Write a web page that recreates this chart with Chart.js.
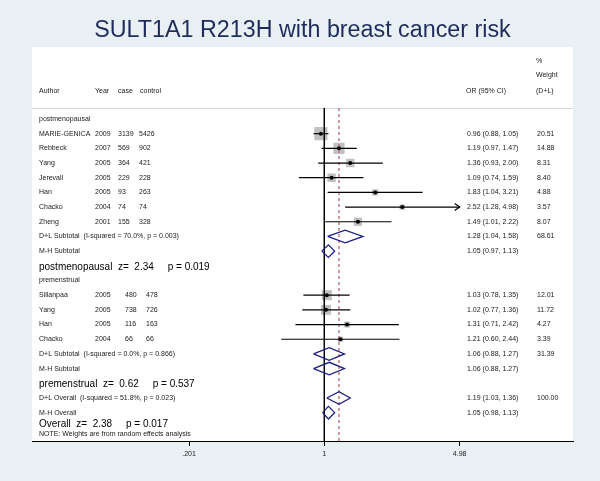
<!DOCTYPE html>
<html>
<head>
<meta charset="utf-8">
<script src="https://cdn.jsdelivr.net/npm/chart.js@4.4.1/dist/chart.umd.min.js"></script>
<style>
  html, body { margin: 0; padding: 0; background: #e9f0f3; }
  canvas { display: block; }
</style>
</head>
<body>
<canvas id="forest" width="600" height="481"></canvas>
<script>
// studies
const authors = ["MARIE-GENICA", "Rebbeck", "Yang", "Jerevall", "Han", "Chacko", "Zheng", "Sillanpaa", "Yang", "Han", "Chacko"];
const years = [2009, 2007, 2005, 2005, 2005, 2004, 2001, 2005, 2005, 2005, 2004];
const cases = [3139, 569, 364, 229, 93, 74, 155, 480, 738, 116, 66];
const controls = [5426, 902, 421, 228, 263, 74, 328, 478, 726, 163, 66];
const oddsRatios = [0.96, 1.19, 1.36, 1.09, 1.83, 2.52, 1.49, 1.03, 1.02, 1.31, 1.21];
const ciLow = [0.88, 0.97, 0.93, 0.74, 1.04, 1.28, 1.01, 0.78, 0.77, 0.71, 0.60];
const ciHigh = [1.05, 1.47, 2.00, 1.59, 3.21, 4.98, 2.22, 1.35, 1.36, 2.42, 2.44];
const weights = [20.51, 14.88, 8.31, 8.40, 4.88, 3.57, 8.07, 12.01, 11.72, 4.27, 3.39];
const studyGroup = [0, 0, 0, 0, 0, 0, 0, 1, 1, 1, 1];
const studyRows = [1, 2, 3, 4, 5, 6, 7, 12, 13, 14, 15];

// subgroups
const groupNames = ["postmenopausal", "premenstrual"];
const groupRows = [0, 11];

// pooled estimates
const pooledLabels = [
  "D+L Subtotal  (I-squared = 70.0%, p = 0.003)", "M-H Subtotal",
  "D+L Subtotal  (I-squared = 0.0%, p = 0.866)", "M-H Subtotal",
  "D+L Overall  (I-squared = 51.8%, p = 0.023)", "M-H Overall"
];
const pooledOr = [1.28, 1.05, 1.06, 1.06, 1.19, 1.05];
const pooledLow = [1.04, 0.97, 0.88, 0.88, 1.03, 0.98];
const pooledHigh = [1.58, 1.13, 1.27, 1.27, 1.36, 1.13];
const pooledWeights = [68.61, null, 31.39, null, 100.00, null];
const pooledRows = [8, 9, 16, 17, 19, 20];

// tests
const testLabels = ["postmenopausal", "premenstrual", "Overall"];
const testZ = ["2.34", "0.62", "2.38"];
const testP = ["0.019", "0.537", "0.017"];
const testRows = [10.1, 18.05, 20.78];

// axis
const xTicks = [0.201, 1, 4.98];
const xTickLabels = [".201", "1", "4.98"];
const nullLine = 1;
const overallLine = pooledOr[4];

const rowTop = -0.75, rowBottom = 21.93;
const navy = "#1b1f86";
const smallFont = "7px 'Liberation Sans', Arial, sans-serif";
const bigFont = "10px 'Liberation Sans', Arial, sans-serif";

const datasets = [];

// reference lines
datasets.push({
  data: [{ x: nullLine, y: rowTop }, { x: nullLine, y: rowBottom }],
  showLine: true, pointRadius: 0, borderColor: "#000", borderWidth: 1, order: 4,
});
datasets.push({
  data: [{ x: overallLine, y: rowTop }, { x: overallLine, y: rowBottom }],
  showLine: true, pointRadius: 0, borderColor: "#c27880", borderWidth: 1.5,
  borderDash: [3, 3], order: 4,
});

// weight boxes
datasets.push({
  data: oddsRatios.map((v, i) => ({ x: v, y: studyRows[i] })),
  pointStyle: "rect",
  pointRadius: weights.map((w) => 2.05 * Math.sqrt(w)),
  backgroundColor: "#c0c0c0", borderWidth: 0, order: 5,
});

// confidence intervals
oddsRatios.forEach((v, i) => {
  datasets.push({
    data: [{ x: ciLow[i], y: studyRows[i] }, { x: ciHigh[i], y: studyRows[i] }],
    showLine: true, pointRadius: 0, borderColor: "#000", borderWidth: 1.2, order: 3,
  });
});

// point estimates
datasets.push({
  data: oddsRatios.map((v, i) => ({ x: v, y: studyRows[i] })),
  pointStyle: "circle", pointRadius: 2, backgroundColor: "#000", borderWidth: 0, order: 1,
});

// diamonds
pooledOr.forEach((v, i) => {
  const r = pooledRows[i], h = 0.43;
  datasets.push({
    data: [
      { x: pooledLow[i], y: r }, { x: v, y: r - h }, { x: pooledHigh[i], y: r },
      { x: v, y: r + h }, { x: pooledLow[i], y: r },
    ],
    showLine: true, pointRadius: 0, borderColor: navy, borderWidth: 1.3, order: 2,
  });
});

const fmt = (v) => v.toFixed(2);

const forestText = {
  id: "forestText",
  beforeDraw(chart) {
    const c = chart.ctx, a = chart.chartArea;
    c.save();
    c.fillStyle = "#e9f0f3";
    c.fillRect(0, 0, chart.width, chart.height);
    c.fillStyle = "#fff";
    c.fillRect(a.left, 47, a.right - a.left, a.bottom - 47);
    c.strokeStyle = "#d2d2d2";
    c.lineWidth = 1;
    c.beginPath();
    c.moveTo(a.left, a.top + 0.5);
    c.lineTo(a.right, a.top + 0.5);
    c.stroke();
    c.restore();
  },
  afterDatasetsDraw(chart) {
    const c = chart.ctx, xs = chart.scales.x, ys = chart.scales.y;
    const limit = xTicks[xTicks.length - 1];
    c.save();
    c.strokeStyle = "#000";
    c.lineWidth = 1.2;
    ciHigh.forEach((hi, i) => {
      if (hi < limit) return;
      const px = xs.getPixelForValue(hi), py = ys.getPixelForValue(studyRows[i]);
      c.beginPath();
      c.moveTo(px - 5, py - 3.5);
      c.lineTo(px, py);
      c.lineTo(px - 5, py + 3.5);
      c.stroke();
    });
    c.restore();
  },
  afterDraw(chart) {
    const c = chart.ctx, ys = chart.scales.y;
    const y = (r) => ys.getPixelForValue(r);
    c.save();
    c.textBaseline = "middle";
    c.fillStyle = "#1a1a1a";
    c.font = smallFont;

    // header
    c.fillText("%", 536, y(-3.95));
    c.fillText("Weight", 536, y(-2.96));
    const hy = y(-1.93);
    c.fillText("Author", 39, hy);
    c.fillText("Year", 95, hy);
    c.fillText("case", 118, hy);
    c.fillText("control", 140, hy);
    c.fillText("OR (95% CI)", 466, hy);
    c.fillText("(D+L)", 536, hy);

    groupNames.forEach((g, i) => c.fillText(g, 39, y(groupRows[i])));

    const caseX = [118, 125];
    const controlX = [139, 146];
    authors.forEach((name, i) => {
      const ry = y(studyRows[i]), g = studyGroup[i];
      c.fillText(name, 39, ry);
      c.fillText(String(years[i]), 95, ry);
      c.fillText(String(cases[i]), caseX[g], ry);
      c.fillText(String(controls[i]), controlX[g], ry);
      c.fillText(fmt(oddsRatios[i]) + " (" + fmt(ciLow[i]) + ", " + fmt(ciHigh[i]) + ")", 467, ry);
      c.fillText(fmt(weights[i]), 537, ry);
    });

    pooledLabels.forEach((lab, i) => {
      const ry = y(pooledRows[i]);
      c.fillText(lab, 39, ry);
      c.fillText(fmt(pooledOr[i]) + " (" + fmt(pooledLow[i]) + ", " + fmt(pooledHigh[i]) + ")", 467, ry);
      if (pooledWeights[i] !== null) c.fillText(fmt(pooledWeights[i]), 537, ry);
    });

    c.fillStyle = "#000";
    c.font = bigFont;
    testLabels.forEach((lab, i) => {
      c.fillText(lab + "  z=  " + testZ[i] + "     p = " + testP[i], 39, y(testRows[i]));
    });

    c.fillStyle = "#1a1a1a";
    c.font = smallFont;
    c.fillText("NOTE: Weights are from random effects analysis", 39, y(21.48));
    c.restore();
  },
};

new Chart(document.getElementById("forest"), {
  type: "scatter",
  data: { datasets: datasets },
  options: {
    responsive: false,
    animation: false,
    events: [],
    layout: { padding: { left: 32, right: 27, top: 0, bottom: 0 } },
    plugins: {
      legend: { display: false },
      tooltip: { enabled: false },
      title: {
        display: true,
        text: "SULT1A1 R213H with breast cancer risk",
        color: "#1e2c5c",
        font: { family: "'Liberation Sans', Arial, sans-serif", size: 23.3, weight: "normal", lineHeight: 1.2 },
        padding: { top: 17, bottom: 63 },
      },
    },
    scales: {
      x: {
        type: "logarithmic",
        position: "bottom",
        min: 0.0312,
        max: 19.1,
        afterBuildTicks: (scale) => {
          scale.ticks = xTicks.map((v) => ({ value: v }));
        },
        afterFit: (scale) => {
          scale.height = 40;
        },
        ticks: {
          autoSkip: false,
          maxRotation: 0,
          padding: 4,
          color: "#1a1a1a",
          font: { family: "'Liberation Sans', Arial, sans-serif", size: 7 },
          callback: (value) => xTickLabels[xTicks.indexOf(value)],
        },
        grid: { drawOnChartArea: false, drawTicks: true, tickLength: 5, color: "#000", lineWidth: 1 },
        border: { display: true, color: "#000", width: 1 },
      },
      y: {
        type: "linear",
        display: false,
        reverse: true,
        min: rowTop,
        max: rowBottom,
      },
    },
  },
  plugins: [forestText],
});
</script>
</body>
</html>
